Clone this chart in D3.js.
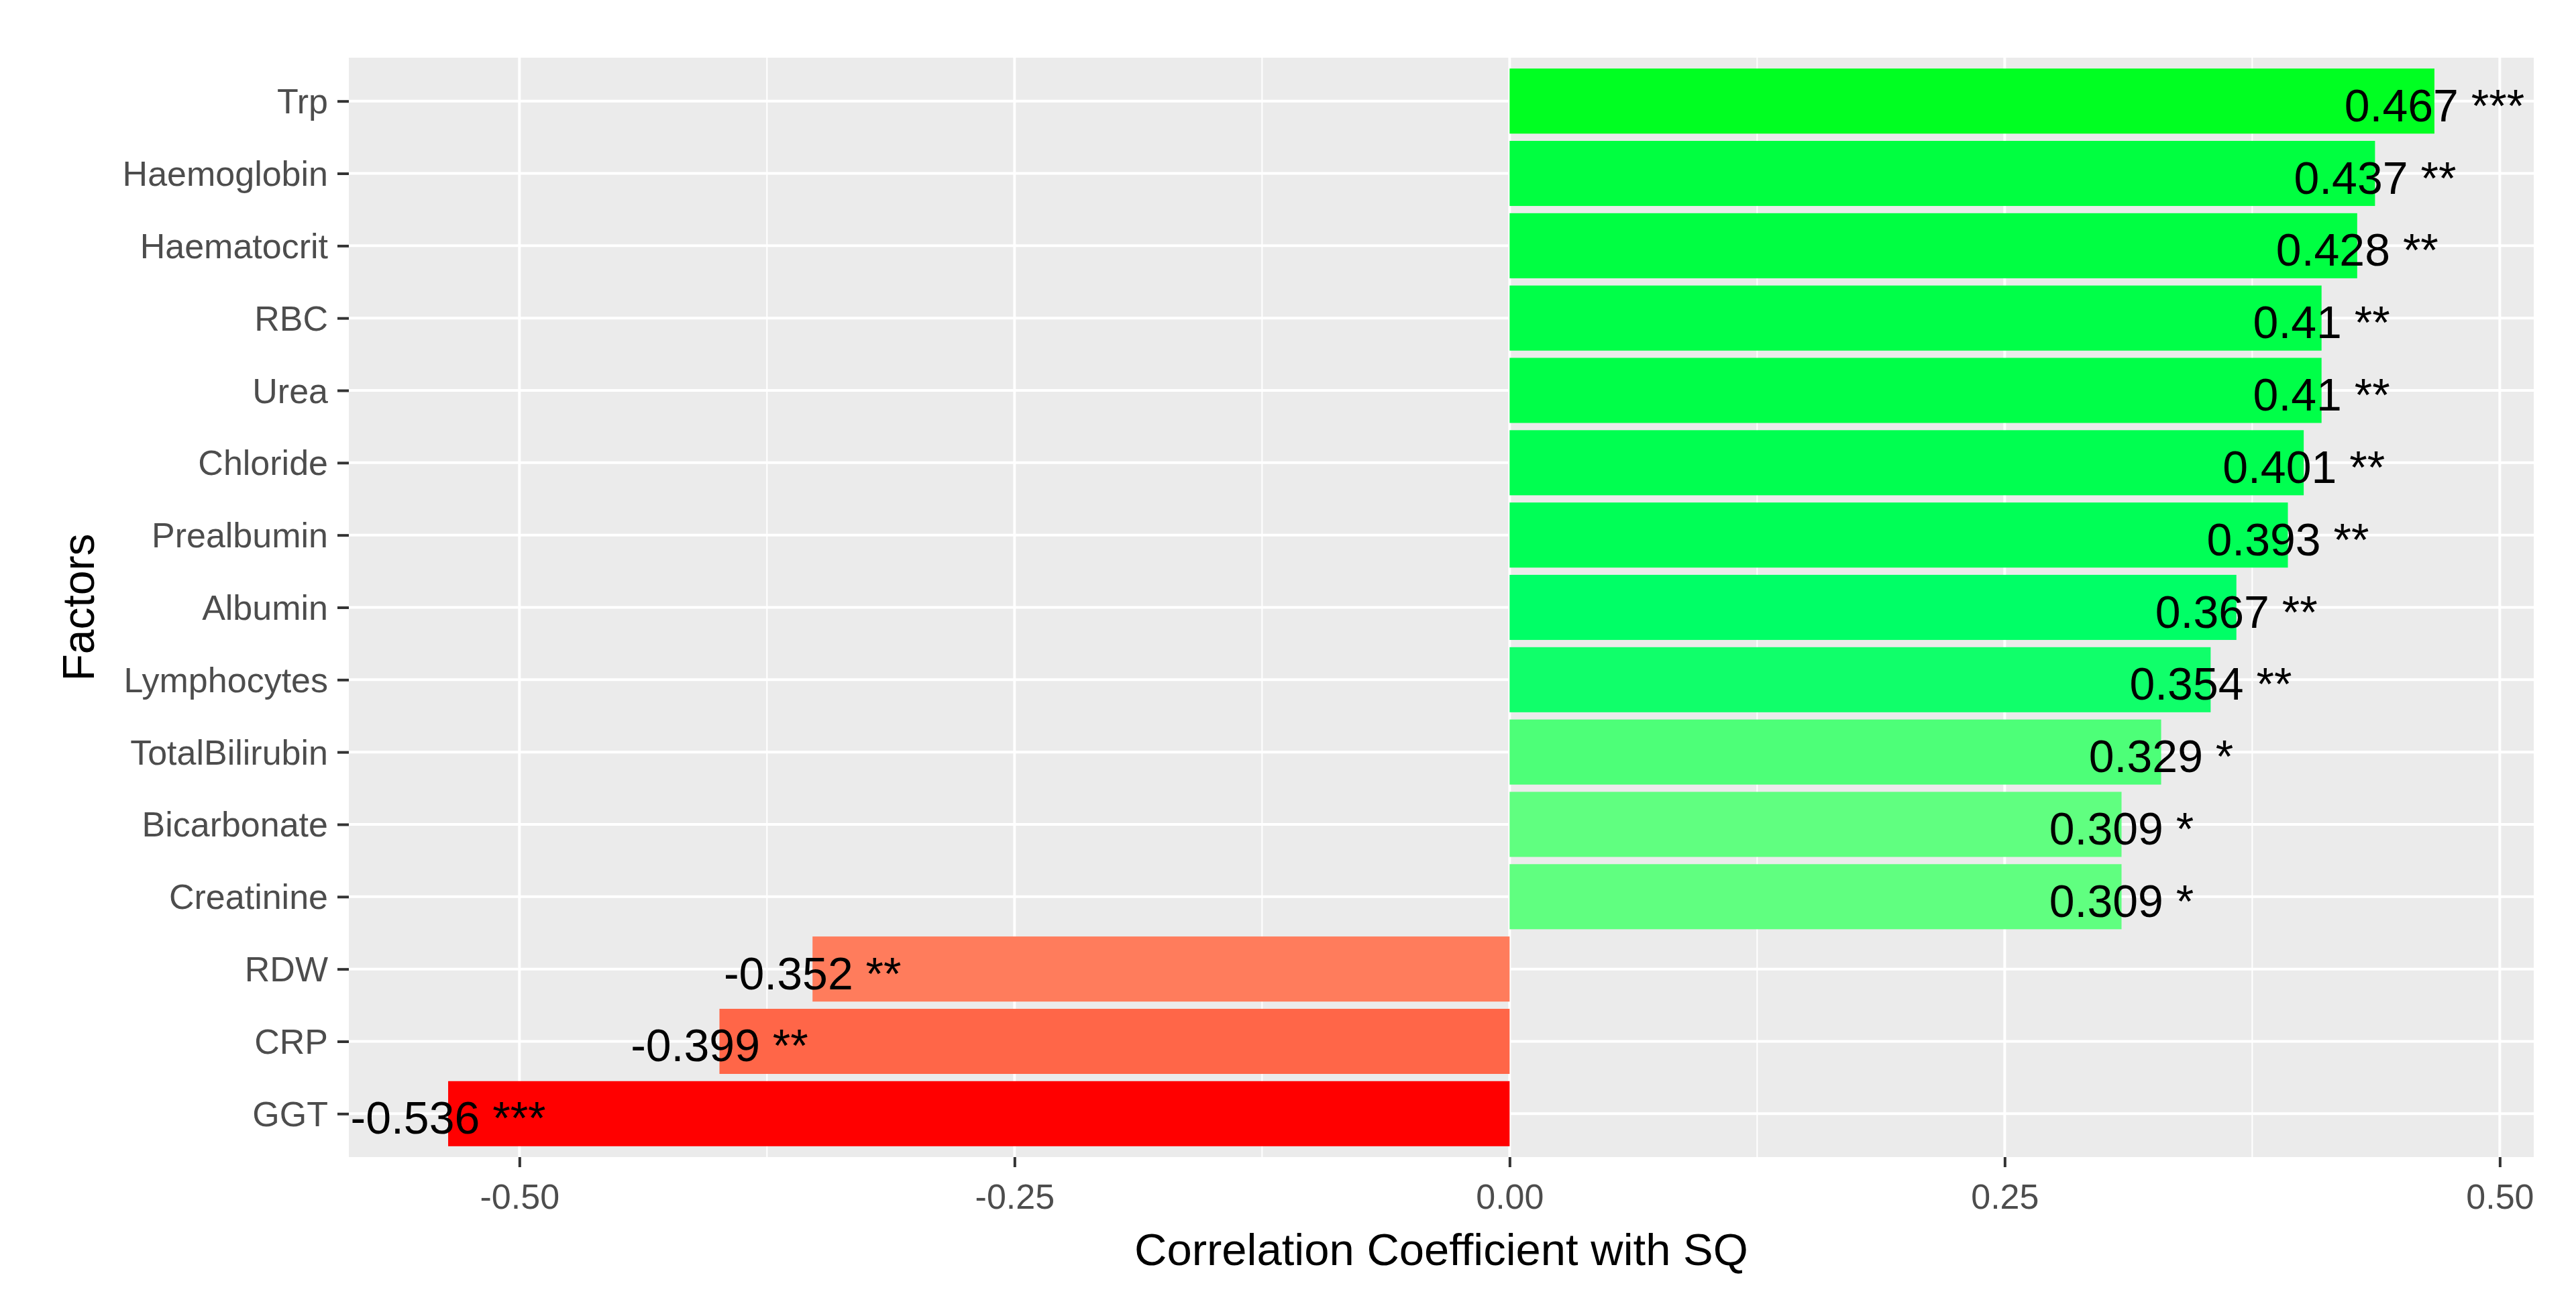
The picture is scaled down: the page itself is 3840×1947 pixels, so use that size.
<!DOCTYPE html>
<html>
<head>
<meta charset="utf-8">
<script src="https://cdn.jsdelivr.net/npm/d3@7"></script>
<style>
    body { margin: 0; background: #ffffff; }
    svg { display: block; font-family: "Liberation Sans", Arial, sans-serif; }
</style>
</head>
<body>
<svg id="chart" width="3840" height="1947"></svg>
<script>
// factors, top to bottom
var factors = ["Trp", "Haemoglobin", "Haematocrit", "RBC", "Urea", "Chloride", "Prealbumin",
    "Albumin", "Lymphocytes", "TotalBilirubin", "Bicarbonate", "Creatinine", "RDW", "CRP", "GGT"];
var coefs = [0.467, 0.437, 0.428, 0.41, 0.41, 0.401, 0.393, 0.367, 0.354, 0.329, 0.309, 0.309,
    -0.352, -0.399, -0.536];
var stars = ["***", "**", "**", "**", "**", "**", "**", "**", "**", "*", "*", "*", "**", "**", "***"];
var xTicks = [-0.50, -0.25, 0.00, 0.25, 0.50];
var xMinor = [-0.375, -0.125, 0.125, 0.375];

// fill per bar
var barColours = ["#00ff22", "#00ff40", "#00ff42", "#00ff48", "#00ff48", "#00ff50", "#00ff56",
    "#00ff66", "#10ff6a", "#4dff78", "#60ff80", "#60ff80", "#ff7c5c", "#ff6648", "#ff0000"];

var data = factors.map(function (f, i) {
    return {name: f, r: coefs[i], stars: stars[i], fill: barColours[i]};
});

var svg = d3.select("#chart"),
    margin = {top: 86, right: 63, bottom: 222, left: 520},
    width = 3840 - margin.left - margin.right,
    height = 1947 - margin.top - margin.bottom;

// ggplot style 5% expansion on the continuous axis
var lo = d3.min(coefs.concat([0])), hi = d3.max(coefs.concat([0])),
    pad = (hi - lo) * 0.05;

var x = d3.scaleLinear().domain([lo - pad, hi + pad]).range([0, width]),
    y = d3.scalePoint().domain(factors).range([0, height]).padding(0.6);

var barH = y.step() * 0.9;

var g = svg.append("g")
    .attr("transform", "translate(" + margin.left + "," + margin.top + ")");

// panel
g.append("rect")
    .attr("width", width)
    .attr("height", height)
    .attr("fill", "#ebebeb");

// grid
g.selectAll(".minor")
    .data(xMinor)
    .enter().append("line")
    .attr("x1", function (d) { return x(d); })
    .attr("x2", function (d) { return x(d); })
    .attr("y1", 0).attr("y2", height)
    .attr("stroke", "#ffffff").attr("stroke-width", 2);

g.selectAll(".vmajor")
    .data(xTicks)
    .enter().append("line")
    .attr("x1", function (d) { return x(d); })
    .attr("x2", function (d) { return x(d); })
    .attr("y1", 0).attr("y2", height)
    .attr("stroke", "#ffffff").attr("stroke-width", 4);

g.selectAll(".hmajor")
    .data(factors)
    .enter().append("line")
    .attr("x1", 0).attr("x2", width)
    .attr("y1", function (d) { return y(d); })
    .attr("y2", function (d) { return y(d); })
    .attr("stroke", "#ffffff").attr("stroke-width", 4);

// bars
g.selectAll(".bar")
    .data(data)
    .enter().append("rect")
    .attr("class", "bar")
    .attr("x", function (d) { return x(Math.min(0, d.r)); })
    .attr("y", function (d) { return y(d.name) - barH / 2; })
    .attr("width", function (d) { return Math.abs(x(d.r) - x(0)); })
    .attr("height", barH)
    .attr("fill", function (d) { return d.fill; });

// values on bars, centred on the bar end
g.selectAll(".bar-label")
    .data(data)
    .enter().append("text")
    .attr("class", "bar-label")
    .attr("text-anchor", "middle")
    .attr("dominant-baseline", "central")
    .attr("x", function (d) { return x(d.r); })
    .attr("y", function (d) { return y(d.name) + 6; })
    .attr("font-size", 68)
    .attr("fill", "#000000")
    .text(function (d) { return d.r + " " + d.stars; });

// y axis
var yAxis = g.append("g")
    .call(d3.axisLeft(y).tickSize(17).tickPadding(14));
yAxis.select(".domain").remove();
yAxis.selectAll("line").attr("stroke", "#333333").attr("stroke-width", 4);
yAxis.selectAll("text")
    .attr("font-size", 52)
    .attr("fill", "#4d4d4d")
    .attr("font-family", "Liberation Sans, Arial, sans-serif")
    .attr("dy", null)
    .attr("dominant-baseline", "central");

// x axis
var xAxis = g.append("g")
    .attr("transform", "translate(0," + height + ")")
    .call(d3.axisBottom(x).tickValues(xTicks).tickFormat(d3.format(".2f")).tickSize(15).tickPadding(14));
xAxis.select(".domain").remove();
xAxis.selectAll("line").attr("stroke", "#333333").attr("stroke-width", 4);
xAxis.selectAll("text")
    .attr("font-size", 52)
    .attr("fill", "#4d4d4d")
    .attr("font-family", "Liberation Sans, Arial, sans-serif")
    .attr("y", 59)
    .attr("dy", null)
    .attr("dominant-baseline", "central")
    .text(function (d) { return d3.format(".2f")(d).replace("−", "-"); });

// axis titles
svg.append("text")
    .attr("x", margin.left + width / 2)
    .attr("y", 1862)
    .attr("text-anchor", "middle")
    .attr("dominant-baseline", "central")
    .attr("font-size", 67)
    .attr("fill", "#000000")
    .text("Correlation Coefficient with SQ");

svg.append("text")
    .attr("transform", "translate(117," + (margin.top + height / 2) + ") rotate(-90)")
    .attr("text-anchor", "middle")
    .attr("dominant-baseline", "central")
    .attr("font-size", 66)
    .attr("fill", "#000000")
    .text("Factors");
</script>
</body>
</html>
